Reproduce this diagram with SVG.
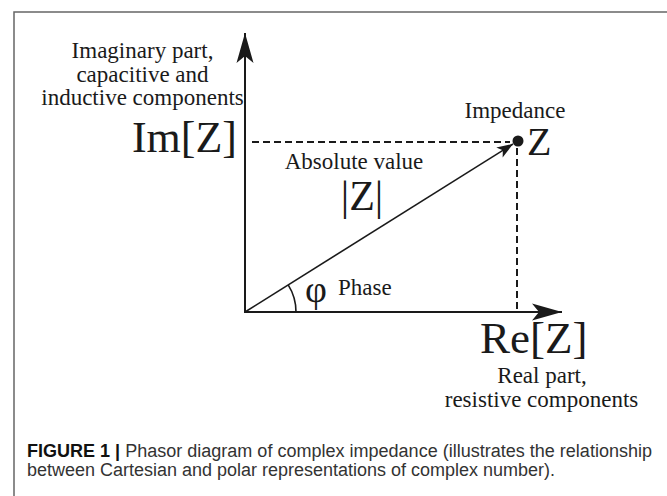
<svg xmlns="http://www.w3.org/2000/svg" width="667" height="496" viewBox="0 0 667 496">
<defs>
<style>
.lbl{font-family:"Liberation Serif","Times New Roman",serif;fill:#1a1a1a;font-size:23px;text-anchor:middle}
.start{text-anchor:start}
.big{font-family:"Liberation Serif","Times New Roman",serif;fill:#1a1a1a;font-size:44px}
.axis{stroke:#1a1a1a;stroke-width:2;fill:none}
.dash{stroke:#1a1a1a;stroke-width:2;stroke-dasharray:7 4;fill:none}
.cap{font-family:"Liberation Sans",Arial,sans-serif;font-size:18px;fill:#333333}
</style>
<marker id="head" markerUnits="userSpaceOnUse" viewBox="-31 -10 32 20" refX="0" refY="0" markerWidth="32" markerHeight="20" orient="auto">
<path d="M0,0 L-30,-8.5 L-23,0 L-30,8.5 Z" fill="#1a1a1a"/>
</marker>
<marker id="vhead" markerUnits="userSpaceOnUse" viewBox="-17 -7 18 14" refX="0" refY="0" markerWidth="18" markerHeight="14" orient="auto">
<path d="M0,0 L-16,-6 L-12,0 L-16,6 Z" fill="#1a1a1a"/>
</marker>
</defs>
<rect width="667" height="496" fill="#ffffff"/>
<path d="M14,496 V12 H667" fill="none" stroke="#666" stroke-width="1.5"/>

<g id="connectors">
<line class="axis" x1="245" y1="313" x2="245" y2="33" marker-end="url(#head)"/>
<line class="axis" x1="244" y1="312" x2="562" y2="312" marker-end="url(#head)"/>
<line class="dash" x1="252" y1="142" x2="510" y2="142"/>
<line class="dash" x1="517" y1="148" x2="517" y2="312"/>
<line stroke="#1a1a1a" stroke-width="1.6" x1="245" y1="312" x2="513" y2="144" marker-end="url(#vhead)"/>
<path d="M296,312 A51,51 0 0 0 288.2,284.9" fill="none" stroke="#1a1a1a" stroke-width="1.6"/>
</g>

<g id="imag-label">
<text class="lbl" x="142.5" y="58">Imaginary part,</text>
<text class="lbl" x="142.5" y="82">capacitive and</text>
<text class="lbl" x="142.5" y="105">inductive components</text>
</g>
<g id="im-z">
<text class="big" x="237" y="152" text-anchor="end">Im[Z]</text>
</g>
<g id="impedance">
<circle cx="518" cy="141" r="5.5" fill="#1a1a1a"/>
<text class="lbl" x="515" y="118">Impedance</text>
<text class="big" x="527" y="155" style="font-size:40px">Z</text>
</g>
<g id="abs-value">
<text class="lbl" x="354" y="169">Absolute value</text>
<text class="big" x="362" y="210" text-anchor="middle" style="font-size:42px">|Z|</text>
</g>
<g id="phase">
<text class="big" x="316" y="302" text-anchor="middle" style="font-size:38px">φ</text>
<text class="lbl start" x="338" y="295">Phase</text>
</g>
<g id="re-z">
<text class="big" x="480" y="353" style="font-size:45px">Re[Z]</text>
<text class="lbl" x="542" y="383">Real part,</text>
<text class="lbl" x="541.5" y="407">resistive components</text>
</g>
<g id="caption">
<text class="cap" x="27" y="457" textLength="625" lengthAdjust="spacingAndGlyphs"><tspan font-weight="bold" fill="#111111">FIGURE 1 |</tspan> Phasor diagram of complex impedance (illustrates the relationship</text>
<text class="cap" x="27" y="476" textLength="528" lengthAdjust="spacingAndGlyphs">between Cartesian and polar representations of complex number).</text>
</g>
</svg>
